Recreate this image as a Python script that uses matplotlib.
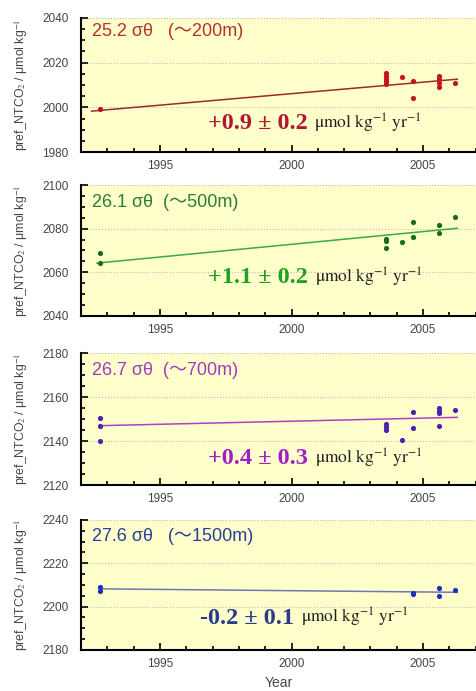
import matplotlib
matplotlib.use("Agg")
import matplotlib.pyplot as plt
from matplotlib.ticker import MultipleLocator

plt.rcParams['font.family'] = ['Liberation Sans', 'Noto Sans CJK JP']
plt.rcParams['mathtext.fontset'] = 'stix'

# --- data ---
layers = ["25.2 σθ   (～200m)", "26.1 σθ  (～500m)", "26.7 σθ  (～700m)", "27.6 σθ   (～1500m)"]
rates = ["+0.9 ± 0.2", "+1.1 ± 0.2", "+0.4 ± 0.3", "-0.2 ± 0.1"]
ylims = [(1980, 2040), (2040, 2100), (2120, 2180), (2180, 2240)]

years_1 = [1992.7, 2003.6, 2003.6, 2003.6, 2003.6, 2003.6, 2004.2, 2004.6, 2004.6,
           2005.6, 2005.6, 2005.6, 2005.6, 2006.2]
tco2_1 = [1999.4, 2015.2, 2014.2, 2012.7, 2011.6, 2010.4, 2013.4, 2011.6, 2004.3,
          2014.0, 2012.7, 2010.8, 2009.3, 2010.8]

years_2 = [1992.7, 1992.7, 2003.6, 2003.6, 2003.6, 2004.2, 2004.6, 2004.6, 2005.6, 2005.6, 2006.2]
tco2_2 = [2069.0, 2064.1, 2075.3, 2074.2, 2071.0, 2073.8, 2082.9, 2076.0, 2081.5, 2078.0, 2085.2]

years_3 = [1992.7, 1992.7, 1992.7, 2003.6, 2003.6, 2003.6, 2004.2, 2004.6, 2004.6,
           2005.6, 2005.6, 2005.6, 2005.6, 2006.2]
tco2_3 = [2150.6, 2146.8, 2140.0, 2147.6, 2146.4, 2145.2, 2140.6, 2153.2, 2145.9,
          2154.9, 2153.8, 2152.9, 2147.0, 2154.2]

years_4 = [1992.7, 1992.7, 2004.6, 2004.6, 2005.6, 2005.6, 2006.2]
tco2_4 = [2208.9, 2207.4, 2206.2, 2205.6, 2208.6, 2204.8, 2207.7]

# trend lines: (start year, end year), (start value, end value)
trend_years = [(1992.4, 2006.3), (1992.6, 2006.3), (1992.7, 2006.3), (1992.7, 2006.3)]
trend_vals = [(1998.3, 2012.6), (2064.2, 2080.2), (2147.0, 2150.8), (2208.2, 2206.6)]

all_years = [years_1, years_2, years_3, years_4]
all_tco2 = [tco2_1, tco2_2, tco2_3, tco2_4]

label_colors = ['#b8302c', '#2e7d2e', '#a23cc4', '#2a3d9c']
line_colors = ['#9c2a2a', '#3caa3c', '#b040c0', '#7078b0']
dot_colors = ['#c01818', '#1a6a1a', '#5020b0', '#1a30c0']
rate_colors = ['#b01830', '#22a022', '#a020c8', '#2a3a90']

axes_tops = [0.974, 0.732, 0.489, 0.2475]
panel_h = [0.194, 0.189, 0.191, 0.188]
label_y = [0.90, 0.87, 0.87, 0.87]
rate_pos = [(0.32, 0.21), (0.32, 0.29), (0.32, 0.20), (0.30, 0.245)]

fig = plt.figure(figsize=(4.77, 6.91), dpi=100)

for i in range(4):
    ax = fig.add_axes([0.170, axes_tops[i] - panel_h[i], 0.83, panel_h[i]])
    ax.set_facecolor('#ffffcc')
    ax.set_xlim(1992, 2007.05)
    ax.set_ylim(*ylims[i])

    ax.plot(trend_years[i], trend_vals[i], color=line_colors[i], lw=1.1, zorder=3)
    ax.scatter(all_years[i], all_tco2[i], s=14, color=dot_colors[i], zorder=4, lw=0)

    ax.xaxis.set_major_locator(MultipleLocator(5))
    ax.xaxis.set_minor_locator(MultipleLocator(1))
    ax.yaxis.set_major_locator(MultipleLocator(20))
    ax.yaxis.set_minor_locator(MultipleLocator(5))
    ax.tick_params(which='both', direction='in', colors='black', labelcolor='#444444',
                   labelsize=8.5, width=1.2)
    ax.tick_params(which='major', length=5)
    ax.tick_params(which='minor', length=3)
    ax.tick_params(axis='x', pad=6)
    ax.tick_params(axis='y', pad=9)
    ax.grid(axis='y', which='major', ls=':', color='#bbbbbb', lw=0.8)
    for s in ['top', 'right']:
        ax.spines[s].set_visible(False)
    for s in ['left', 'bottom']:
        ax.spines[s].set_linewidth(1.5)

    ax.set_ylabel("pref_NTCO$_2$ / μmol kg$^{-1}$", fontsize=8.8, color='#444444',
                  labelpad=9)

    ax.text(0.028, label_y[i], layers[i], transform=ax.transAxes, fontsize=13,
            color=label_colors[i], va='center', ha='left')

    rt = ax.text(rate_pos[i][0], rate_pos[i][1], rates[i], transform=ax.transAxes,
                 fontsize=17.5, fontweight='bold', family='Liberation Serif',
                 color=rate_colors[i], va='center', ha='left')
    ax.annotate(r"$\mathrm{\mu mol\ kg^{-1}\ yr^{-1}}$", xy=(1, 0), xycoords=rt,
                xytext=(5, 4), textcoords='offset points', fontsize=12.5,
                color='#222222', va='baseline', ha='left')

    if i == 3:
        ax.set_xlabel("Year", fontsize=10, color='#444444', labelpad=4)

fig.savefig("out.png", dpi=100)
